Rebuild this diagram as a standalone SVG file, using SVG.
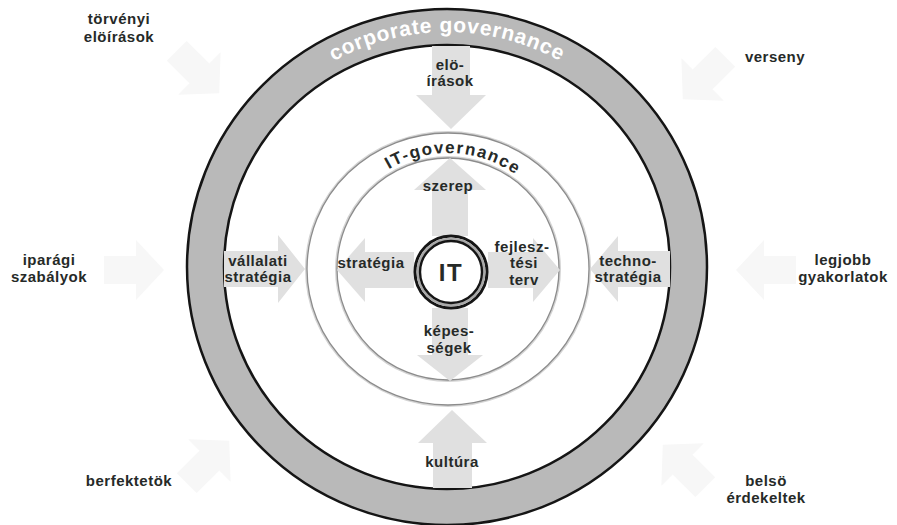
<svg xmlns="http://www.w3.org/2000/svg" xmlns:xlink="http://www.w3.org/1999/xlink" width="897" height="525" viewBox="0 0 897 525">
<style>
.lbl{font-family:"Liberation Sans",Arial,sans-serif;font-weight:bold;font-size:15px;letter-spacing:0.5px;fill:#262a28;text-anchor:middle}
.arr{fill:#e0e0e0}
.faint{fill:#f7f7f7}
.ring{font-family:"Liberation Sans",Arial,sans-serif;font-weight:bold;text-anchor:middle}
</style>
<defs>
<path id="outerArc" d="M 212 267 A 235 235 0 0 1 682 267"/>
<path id="itArc" d="M 332 269 A 116 116 0 0 1 564 269"/>
<polygon id="farr" points="-30,-14 2,-14 2,-30 30,0 2,30 2,14 -30,14"/>
</defs>
<rect width="897" height="525" fill="#ffffff"/>

<g id="corporate-governance">
<ellipse cx="447" cy="267" rx="260" ry="258" fill="#b9b9b9" stroke="#151515" stroke-width="2.5"/>
<ellipse cx="447" cy="267" rx="223" ry="222" fill="#ffffff" stroke="#151515" stroke-width="2.5"/>
<text class="ring" style="font-size:21px;letter-spacing:0.8px" fill="#ffffff"><textPath href="#outerArc" xlink:href="#outerArc" startOffset="50%">corporate governance</textPath></text>
</g>

<g id="it-governance">
<ellipse cx="448" cy="269" rx="141" ry="136" fill="none" stroke="#d4d4d4" stroke-width="4"/>
<ellipse cx="448" cy="269" rx="141" ry="136" fill="#ffffff" stroke="#8c8c8c" stroke-width="1.3"/>
<circle cx="448" cy="269" r="111" fill="none" stroke="#d4d4d4" stroke-width="4"/>
<circle cx="448" cy="269" r="111" fill="#ffffff" stroke="#8c8c8c" stroke-width="1.3"/>
<text class="ring" style="font-size:17px;letter-spacing:1.5px" fill="#262a28"><textPath href="#itArc" xlink:href="#itArc" startOffset="51.5%">IT-governance</textPath></text>
</g>

<g id="connectors">
<use href="#farr" xlink:href="#farr" class="faint" transform="translate(198,72) rotate(45)"/>
<use href="#farr" xlink:href="#farr" class="faint" transform="translate(704,78) rotate(135)"/>
<use href="#farr" xlink:href="#farr" class="faint" transform="translate(134,270)"/>
<use href="#farr" xlink:href="#farr" class="faint" transform="translate(766,270) rotate(180)"/>
<use href="#farr" xlink:href="#farr" class="faint" transform="translate(208,462) rotate(-45)"/>
<use href="#farr" xlink:href="#farr" class="faint" transform="translate(684,466) rotate(-135)"/>
<polygon class="arr" points="432,46 470,46 470,95 486,95 451,129 416,95 432,95"/>
<polygon class="arr" points="433,488 472,488 472,443 487,443 452,410 418,443 433,443"/>
<polygon class="arr" points="224,251 278,251 278,235 305,269 278,303 278,287 224,287"/>
<polygon class="arr" points="670,251 618,251 618,236 590,269 618,302 618,287 670,287"/>
<polygon class="arr" points="432,236 468,236 468,190 486,190 450,158 414,190 432,190"/>
<polygon class="arr" points="432,308 468,308 468,355 483,355 450,381 417,355 432,355"/>
<polygon class="arr" points="414,252 365,252 365,238 337,270 365,302 365,288 414,288"/>
<polygon class="arr" points="488,252 533,252 533,238 560,270 533,302 533,288 488,288"/>
</g>

<g id="it">
<circle cx="451" cy="272" r="36" fill="#ffffff" stroke="#151515" stroke-width="3"/>
<circle cx="451" cy="272" r="33.3" fill="none" stroke="#a8a8a8" stroke-width="2.4"/>
<circle cx="451" cy="272" r="31" fill="#ffffff" stroke="#151515" stroke-width="2.4"/>
<text class="lbl" x="451" y="281" style="font-size:24px;letter-spacing:1.5px">IT</text>
</g>

<g id="torvenyi-eloirasok"><text class="lbl" x="119" y="24">törvényi</text><text class="lbl" x="119" y="42">elöírások</text></g>
<g id="verseny"><text class="lbl" x="775" y="62">verseny</text></g>
<g id="iparagi-szabalyok"><text class="lbl" x="49" y="265">iparági</text><text class="lbl" x="49" y="282">szabályok</text></g>
<g id="legjobb-gyakorlatok"><text class="lbl" x="843" y="265">legjobb</text><text class="lbl" x="843" y="282">gyakorlatok</text></g>
<g id="berfektetok"><text class="lbl" x="129" y="486">berfektetök</text></g>
<g id="belso-erdekeltek"><text class="lbl" x="766" y="486">belsö</text><text class="lbl" x="766" y="503">érdekeltek</text></g>

<g id="eloirasok"><text class="lbl" x="450" y="70">elö-</text><text class="lbl" x="450" y="86">írások</text></g>
<g id="kultura"><text class="lbl" x="452" y="467">kultúra</text></g>
<g id="vallalati-strategia"><text class="lbl" x="258" y="266">vállalati</text><text class="lbl" x="258" y="282">stratégia</text></g>
<g id="techno-strategia"><text class="lbl" x="628" y="266">techno-</text><text class="lbl" x="628" y="282">stratégia</text></g>
<g id="szerep"><text class="lbl" x="448" y="191">szerep</text></g>
<g id="strategia"><text class="lbl" x="371" y="268">stratégia</text></g>
<g id="fejlesztesi-terv"><text class="lbl" x="522" y="252">fejlesz-</text><text class="lbl" x="524" y="268">tési</text><text class="lbl" x="524" y="285">terv</text></g>
<g id="kepessegek"><text class="lbl" x="449" y="336">képes-</text><text class="lbl" x="449" y="353">ségek</text></g>
</svg>
